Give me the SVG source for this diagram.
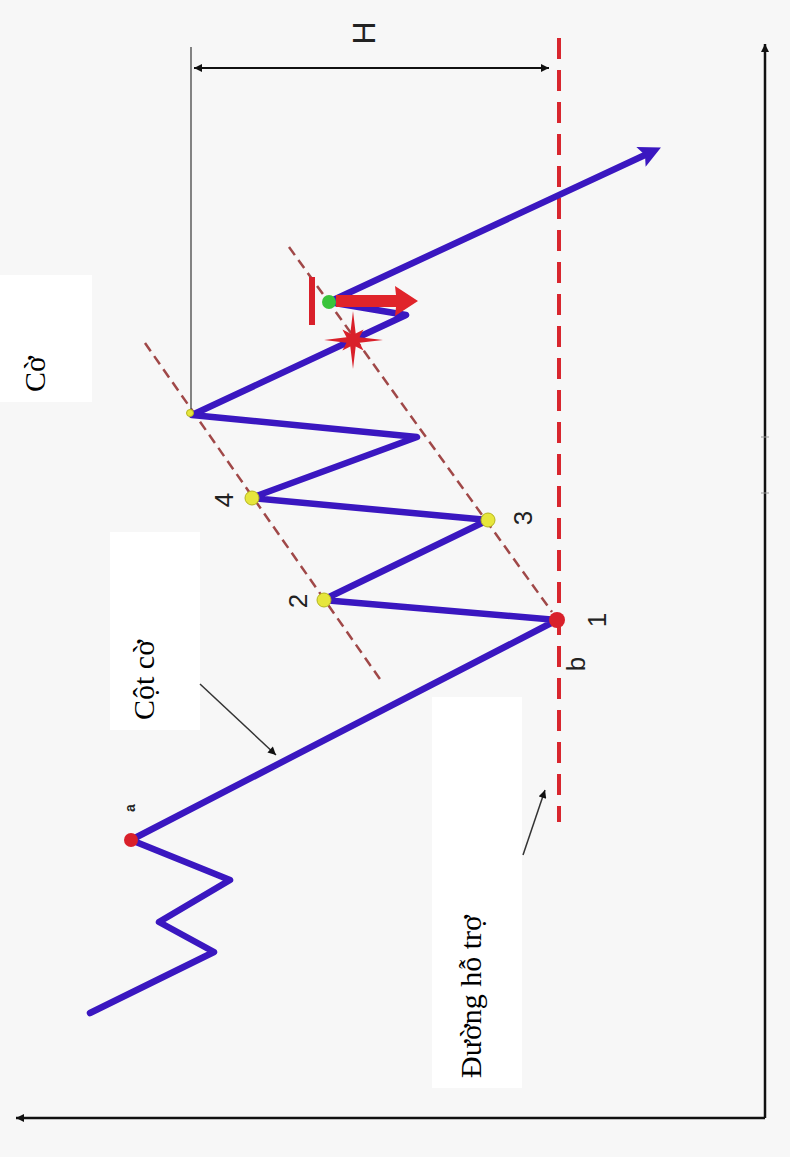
<svg xmlns="http://www.w3.org/2000/svg" width="790" height="1157" viewBox="0 0 790 1157">
<style>
.bg{fill:#f7f7f7}
.box{fill:#ffffff}
.price{fill:none;stroke:#3a17c0;stroke-width:6.5;stroke-linejoin:round;stroke-linecap:round}
.trend{fill:none;stroke:#a04848;stroke-width:2.5;stroke-dasharray:10 6}
.support{fill:none;stroke:#d8262e;stroke-width:4;stroke-dasharray:21 11}
.axis{fill:none;stroke:#111;stroke-width:2.5}
.thin{fill:none;stroke:#333;stroke-width:1.5}
.red{fill:#d9202a}
.ydot{fill:#e6e63c;stroke:#b5b51e;stroke-width:1}
.lbl{font-family:"Liberation Serif","Times New Roman",serif;font-size:30px;fill:#000}
.num{font-family:"Liberation Sans",Arial,sans-serif;font-size:26px;fill:#222;text-anchor:middle;dominant-baseline:central}
</style>
<defs>
<marker id="ah" viewBox="0 0 10 10" refX="10" refY="5" markerWidth="10" markerHeight="8" markerUnits="userSpaceOnUse" orient="auto-start-reverse"><path d="M0,0 L10,5 L0,10 z" fill="#111"/></marker>
<marker id="blueHead" viewBox="0 0 10 10" refX="2" refY="5" markerWidth="26" markerHeight="22" markerUnits="userSpaceOnUse" orient="auto"><path d="M0,0 L10,5 L0,10 L2,5 z" fill="#3a17c0"/></marker>
</defs>
<rect class="bg" x="0" y="0" width="790" height="1157"/>

<g id="axes">
<line class="axis" x1="765" y1="1118" x2="765" y2="44" marker-end="url(#ah)"/>
<line class="axis" x1="765" y1="1118" x2="16" y2="1118" marker-end="url(#ah)"/>
<line x1="761" y1="437" x2="769" y2="437" stroke="#999" stroke-width="1"/>
<line x1="761" y1="493" x2="769" y2="493" stroke="#999" stroke-width="1"/>
</g>

<g id="support-line">
<line class="support" x1="559" y1="38" x2="559" y2="822"/>
</g>

<g id="flag-channel">
<line class="trend" x1="145" y1="343" x2="382" y2="682"/>
<line class="trend" x1="289" y1="247" x2="552" y2="612"/>
</g>

<g id="height-H">
<line x1="191" y1="47" x2="191" y2="414" stroke="#444" stroke-width="1.3"/>
<line x1="194" y1="68" x2="549" y2="68" stroke="#111" stroke-width="2" marker-start="url(#ah)" marker-end="url(#ah)"/>
<text class="num" transform="translate(364,33) rotate(-90)" style="font-size:32px">H</text>
</g>

<g id="price-path">
<path class="price" d="M90,1013 L214,952 L159,922 L230,880 L131,840 L557,620 L323,600 L488,520 L251,498 L417,437 L192,415 L406,315 L329,302 L645,155" marker-end="url(#blueHead)"/>
</g>

<g id="markers">
<rect class="red" x="309" y="277" width="6" height="48"/>
<path d="M336,295 L396,295 L395,286 L418,301 L395,316 L396,307 L336,307 Z" fill="#e0242a"/>
<polygon class="red" points="353,311 355.7,333.5 363.6,329.4 359.5,337.3 383,340 359.5,342.7 363.6,350.6 355.7,346.5 353,369 350.3,346.5 342.4,350.6 346.5,342.7 324,340 346.5,337.3 342.4,329.4 350.3,333.5"/>
<circle cx="329" cy="302" r="7" fill="#39c43a"/>
<circle class="ydot" cx="190" cy="413" r="3.5"/>
</g>

<g id="point-a">
<circle class="red" cx="131" cy="840" r="7"/>
<text class="num" transform="translate(130,808) rotate(-90)" style="font-size:14px;font-weight:bold">a</text>
</g>
<g id="point-1">
<circle class="red" cx="557" cy="620" r="8"/>
<text class="num" transform="translate(597,620) rotate(-90)">1</text>
<text class="num" transform="translate(576,664) rotate(-90)">b</text>
</g>
<g id="point-2">
<circle class="ydot" cx="324" cy="600" r="7"/>
<text class="num" transform="translate(298,601) rotate(-90)">2</text>
</g>
<g id="point-3">
<circle class="ydot" cx="488" cy="520" r="7"/>
<text class="num" transform="translate(523,518) rotate(-90)">3</text>
</g>
<g id="point-4">
<circle class="ydot" cx="252" cy="498" r="7"/>
<text class="num" transform="translate(224,500) rotate(-90)">4</text>
</g>

<g id="label-co">
<rect class="box" x="0" y="275" width="92" height="127"/>
<text class="lbl" transform="translate(45,392) rotate(-90)">Cờ</text>
</g>
<g id="label-cotco">
<rect class="box" x="110" y="532" width="90" height="198"/>
<text class="lbl" transform="translate(154,720) rotate(-90)">Cột cờ</text>
</g>
<g id="label-duonghotro">
<rect class="box" x="432" y="697" width="90" height="391"/>
<text class="lbl" transform="translate(481,1078) rotate(-90)">Đường hỗ trợ</text>
</g>

<g id="connectors">
<line class="thin" x1="200" y1="684" x2="276" y2="755" marker-end="url(#ah)"/>
<line class="thin" x1="523" y1="855" x2="545" y2="790" marker-end="url(#ah)"/>
</g>
</svg>
